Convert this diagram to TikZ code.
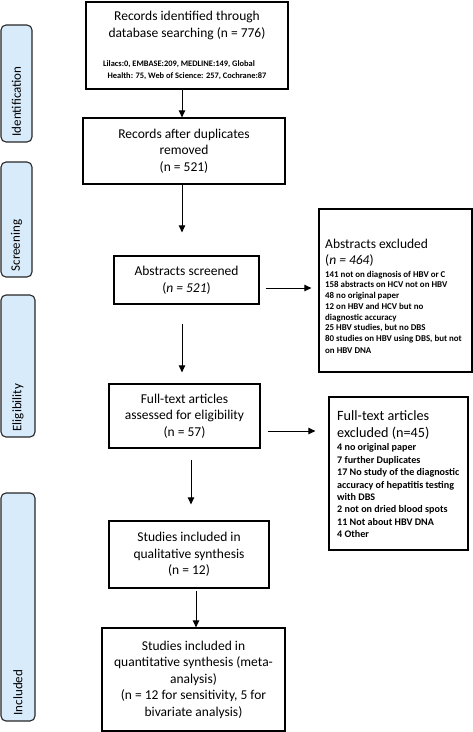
\documentclass[tikz,border=0pt]{standalone}
\usepackage{fontspec}
\setmainfont{Carlito}
\usetikzlibrary{arrows.meta}
\definecolor{phaseblue}{RGB}{216,235,251}
\newcommand{\smalltxt}{\fontsize{8.4}{12}\selectfont\bfseries}
\newcommand{\abslist}{\fontsize{8.9}{10.7}\selectfont\bfseries}
\newcommand{\fulllist}{\fontsize{10.1}{12.4}\selectfont\bfseries}

\begin{document}
\begin{tikzpicture}[x=1pt, y=-1pt,
	box/.style={draw=black, line width=1.3pt, align=flush center, inner sep=0pt, font=\fontsize{13.5}{16.5}\selectfont},
	exbox/.style={draw=black, line width=1.3pt, inner sep=0pt},
	extext/.style={anchor=north west, align=flush left, inner sep=0pt},
	phase/.style={draw=black!85, fill=phaseblue, rounded corners=5pt, line width=1.1pt, inner sep=0pt},
	phasetext/.style={rotate=90, anchor=west, inner sep=0pt, font=\fontsize{13}{15}\selectfont},
	arr/.style={draw=black, line width=1pt, -{Triangle[length=7pt, width=6.5pt]}}]
	\useasboundingbox (0,0) rectangle (473,732);

	\node[phase, minimum width=31, minimum height=117] (idbar) at (16.5,83.5) {};
	\node[phase, minimum width=31, minimum height=115] (scrbar) at (16.5,219.5) {};
	\node[phase, minimum width=34, minimum height=142] (eligbar) at (18,366) {};
	\node[phase, minimum width=34, minimum height=228] (inclbar) at (18,607) {};
	\node[phasetext] (idlabel) at ([yshift=6pt]idbar.south) {Identification};
	\node[phasetext] (scrlabel) at ([yshift=6pt]scrbar.south) {Screening};
	\node[phasetext] (eliglabel) at ([yshift=6pt]eligbar.south) {Eligibility};
	\node[phasetext] (incllabel) at ([yshift=6pt]inclbar.south) {Included};

	\node[box, minimum width=202, minimum height=87, text width=200] (rec) at (187,45.5) {Records identified through\\database searching (n = 776)\par\vspace{17pt}{\smalltxt Lilacs:0, EMBASE:209, MEDLINE:149, Global\newline Health: 75, Web of Science: 257, Cochrane:87\par}};
	\node[box, minimum width=202, minimum height=66] (dup) at (184,151) {Records after duplicates\\removed\\(n = 521)};
	\node[box, minimum width=145, minimum height=48] (scr) at (186.5,280) {Abstracts screened\\(\textit{n = 521})};
	\node[box, minimum width=151, minimum height=64] (full) at (184.5,416) {Full-text articles\\assessed for eligibility\\(n = 57)};
	\node[box, minimum width=160, minimum height=67] (qual) at (189,554.5) {Studies included in\\qualitative synthesis\\(n = 12)};
	\node[box, minimum width=183, minimum height=103] (quant) at (193.5,679.5) {Studies included in\\quantitative synthesis (meta-\\analysis)\\(n = 12 for sensitivity, 5 for\\bivariate analysis)};

	\node[exbox, minimum width=153, minimum height=163] (absx) at (395.5,290.5) {};
	\node[extext, text width=146] (absxtext) at (325,239) {\fontsize{13.5}{15.5}\selectfont Abstracts excluded\\(\textit{n = 464})\par\vspace{2.5pt}\abslist 141 not on diagnosis of HBV or C\\158 abstracts on HCV not on HBV\\48 no original paper\\12 on HBV and HCV but no\\diagnostic accuracy\\25 HBV studies, but no DBS\\80 studies on HBV using DBS, but not\\on HBV DNA};
	\node[exbox, minimum width=139, minimum height=153] (fullx) at (398.5,473.5) {};
	\node[extext, text width=134] (fullxtext) at (337,410) {\fontsize{14.2}{17}\selectfont Full-text articles\\excluded (n=45)\par\vspace{1.5pt}\fulllist 4 no original paper\\7 further Duplicates\\17 No study of the diagnostic\\accuracy of hepatitis testing\\with DBS\\2 not on dried blood spots\\11 Not about HBV DNA\\4 Other};

	\draw[arr] ([xshift=-5pt]rec.south) -- ([xshift=-5pt]rec.south |- dup.north);
	\draw[arr, shorten >=23pt] ([xshift=-2pt]dup.south) -- ([xshift=-2pt]dup.south |- scr.north);
	\draw[arr, shorten <=19pt, shorten >=11pt] ([xshift=-4.5pt]scr.south) -- ([xshift=-4.5pt]scr.south |- full.north);
	\draw[arr, shorten <=11pt, shorten >=16pt] ([xshift=6.5pt]full.south) -- ([xshift=6.5pt]full.south |- qual.north);
	\draw[arr, shorten <=2pt] ([xshift=7pt]qual.south) -- ([xshift=7pt]qual.south |- quant.north);
	\draw[arr, shorten <=6pt, shorten >=7pt] ([yshift=-8pt]scr.east) -- ([yshift=-8pt]scr.east -| absx.west);
	\draw[arr, shorten <=7pt, shorten >=13pt] ([yshift=-15pt]full.east) -- ([yshift=-15pt]full.east -| fullx.west);
\end{tikzpicture}
\end{document}
